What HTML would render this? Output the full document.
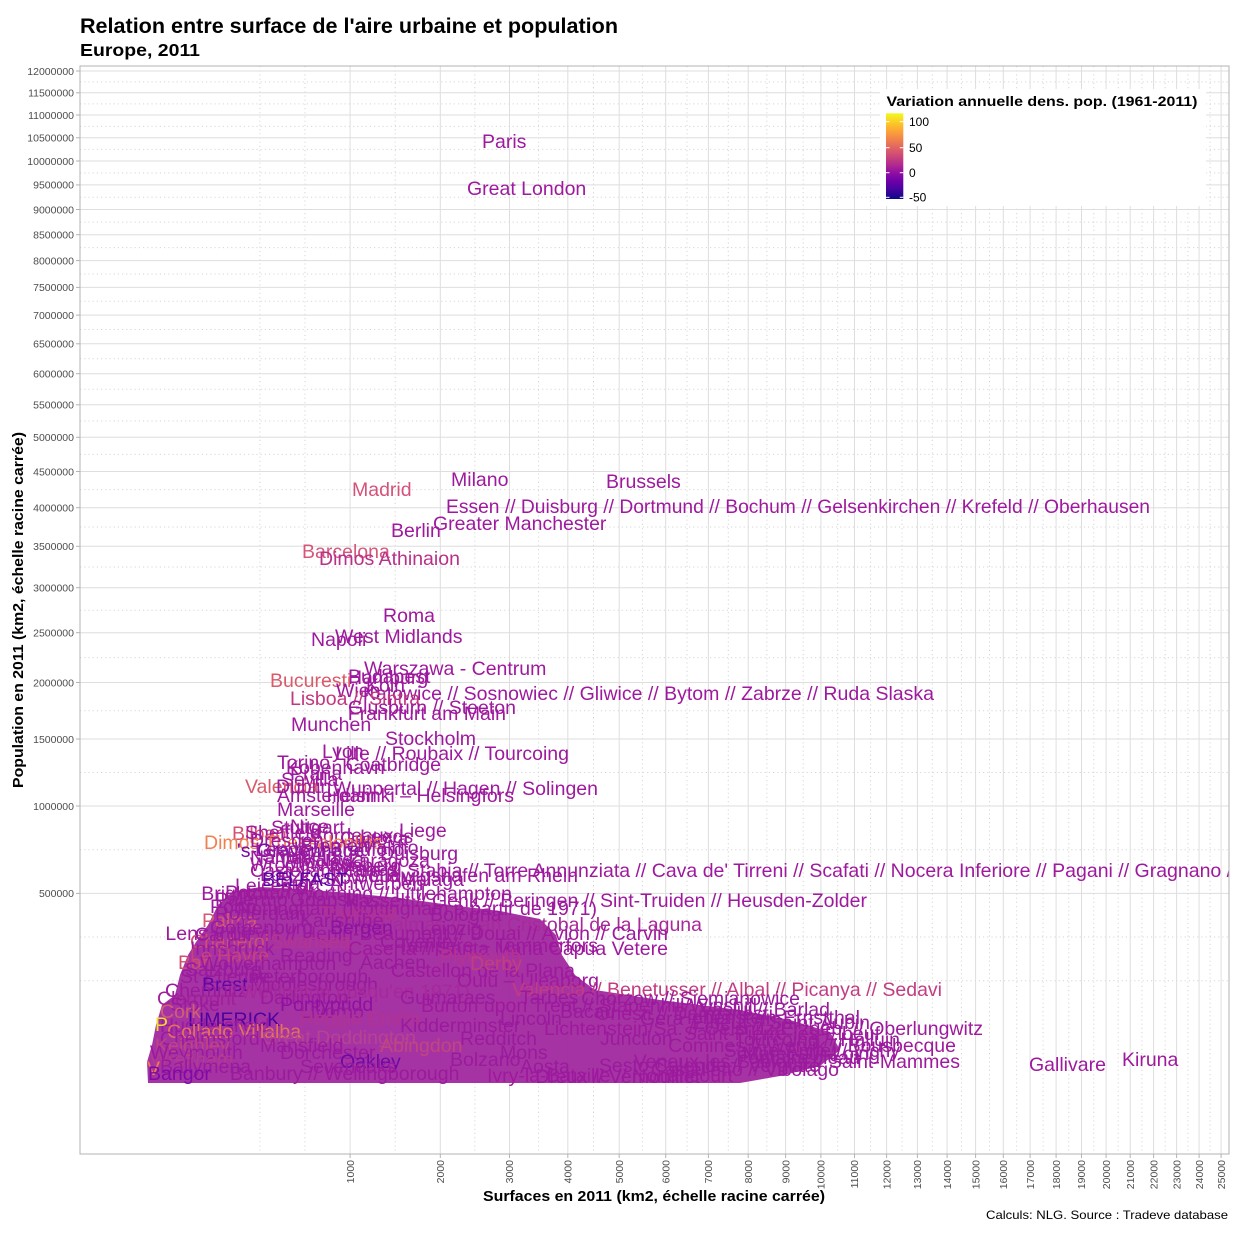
<!DOCTYPE html>
<html><head><meta charset="utf-8"><style>
html,body{margin:0;padding:0;background:#fff}
svg{display:block}
.l{font-family:"Liberation Sans",sans-serif;font-size:19.5px;fill:#9e199d}
.f{font-family:"Liberation Sans",sans-serif;font-size:19.5px;fill:#9a1a9e}
.tk{font-family:"Liberation Sans",sans-serif;font-size:10.5px;fill:#4d4d4d}
.mj{stroke:#dedede;stroke-width:1}
.mn{stroke:#d6d6d6;stroke-width:1;stroke-dasharray:1.2 3}
</style></head><body>
<svg width="1240" height="1240" viewBox="0 0 1240 1240" xmlns="http://www.w3.org/2000/svg">
<defs>
<clipPath id="pc"><rect x="80" y="66" width="1149" height="1088"/></clipPath>
<linearGradient id="plasma" x1="0" y1="1" x2="0" y2="0">
<stop offset="0" stop-color="#0d0887"/><stop offset="0.1" stop-color="#41049d"/><stop offset="0.2" stop-color="#6a00a8"/><stop offset="0.3" stop-color="#8f0da4"/><stop offset="0.4" stop-color="#b12a90"/><stop offset="0.5" stop-color="#cc4778"/><stop offset="0.6" stop-color="#e16462"/><stop offset="0.7" stop-color="#f2844b"/><stop offset="0.8" stop-color="#fca636"/><stop offset="0.9" stop-color="#fcce25"/><stop offset="1" stop-color="#f0f921"/>
</linearGradient>
</defs>
<rect width="1240" height="1240" fill="#fff"/>
<text x="80" y="33" font-family="Liberation Sans, sans-serif" font-weight="bold" font-size="21" textLength="538" lengthAdjust="spacingAndGlyphs">Relation entre surface de l'aire urbaine et population</text>
<text x="80" y="56" font-family="Liberation Sans, sans-serif" font-weight="bold" font-size="17.3" textLength="120" lengthAdjust="spacingAndGlyphs">Europe, 2011</text>

<!-- minor grid -->
<g class="mn">
<line x1="80" x2="1229" y1="980.7" y2="980.7"/><line x1="80" x2="1229" y1="937" y2="937"/><line x1="80" x2="1229" y1="849.7" y2="849.7"/><line x1="80" x2="1229" y1="772.5" y2="772.5"/><line x1="80" x2="1229" y1="710.7" y2="710.7"/><line x1="80" x2="1229" y1="657.6" y2="657.6"/><line x1="80" x2="1229" y1="610.2" y2="610.2"/><line x1="80" x2="1229" y1="567" y2="567"/><line x1="80" x2="1229" y1="527" y2="527"/><line x1="80" x2="1229" y1="489.6" y2="489.6"/><line x1="80" x2="1229" y1="454.4" y2="454.4"/><line x1="80" x2="1229" y1="421" y2="421"/><line x1="80" x2="1229" y1="389.2" y2="389.2"/><line x1="80" x2="1229" y1="358.7" y2="358.7"/><line x1="80" x2="1229" y1="329.5" y2="329.5"/><line x1="80" x2="1229" y1="301.3" y2="301.3"/><line x1="80" x2="1229" y1="274" y2="274"/><line x1="80" x2="1229" y1="247.6" y2="247.6"/><line x1="80" x2="1229" y1="222.1" y2="222.1"/><line x1="80" x2="1229" y1="197.2" y2="197.2"/><line x1="80" x2="1229" y1="173" y2="173"/><line x1="80" x2="1229" y1="149.4" y2="149.4"/><line x1="80" x2="1229" y1="126.4" y2="126.4"/><line x1="80" x2="1229" y1="103.9" y2="103.9"/><line x1="80" x2="1229" y1="81.9" y2="81.9"/>
<line y1="66" y2="1154" x1="259.9" x2="259.9"/><line y1="66" y2="1154" x1="305" x2="305"/><line y1="66" y2="1154" x1="395.2" x2="395.2"/><line y1="66" y2="1154" x1="474.9" x2="474.9"/><line y1="66" y2="1154" x1="538.6" x2="538.6"/><line y1="66" y2="1154" x1="593.5" x2="593.5"/><line y1="66" y2="1154" x1="642.4" x2="642.4"/><line y1="66" y2="1154" x1="687" x2="687"/><line y1="66" y2="1154" x1="728.3" x2="728.3"/><line y1="66" y2="1154" x1="766.9" x2="766.9"/><line y1="66" y2="1154" x1="803.2" x2="803.2"/><line y1="66" y2="1154" x1="837.7" x2="837.7"/><line y1="66" y2="1154" x1="870.6" x2="870.6"/><line y1="66" y2="1154" x1="902" x2="902"/><line y1="66" y2="1154" x1="932.3" x2="932.3"/><line y1="66" y2="1154" x1="961.4" x2="961.4"/><line y1="66" y2="1154" x1="989.5" x2="989.5"/><line y1="66" y2="1154" x1="1016.7" x2="1016.7"/><line y1="66" y2="1154" x1="1043.1" x2="1043.1"/><line y1="66" y2="1154" x1="1068.8" x2="1068.8"/><line y1="66" y2="1154" x1="1093.8" x2="1093.8"/><line y1="66" y2="1154" x1="1118.2" x2="1118.2"/><line y1="66" y2="1154" x1="1141.9" x2="1141.9"/><line y1="66" y2="1154" x1="1165.1" x2="1165.1"/><line y1="66" y2="1154" x1="1187.9" x2="1187.9"/><line y1="66" y2="1154" x1="1210.1" x2="1210.1"/>
</g>
<!-- major grid -->
<g class="mj">
<line x1="80" x2="1229" y1="893.4" y2="893.4"/><line x1="80" x2="1229" y1="806" y2="806"/><line x1="80" x2="1229" y1="739" y2="739"/><line x1="80" x2="1229" y1="682.5" y2="682.5"/><line x1="80" x2="1229" y1="632.7" y2="632.7"/><line x1="80" x2="1229" y1="587.7" y2="587.7"/><line x1="80" x2="1229" y1="546.3" y2="546.3"/><line x1="80" x2="1229" y1="507.7" y2="507.7"/><line x1="80" x2="1229" y1="471.5" y2="471.5"/><line x1="80" x2="1229" y1="437.3" y2="437.3"/><line x1="80" x2="1229" y1="404.8" y2="404.8"/><line x1="80" x2="1229" y1="373.7" y2="373.7"/><line x1="80" x2="1229" y1="343.8" y2="343.8"/><line x1="80" x2="1229" y1="315.1" y2="315.1"/><line x1="80" x2="1229" y1="287.4" y2="287.4"/><line x1="80" x2="1229" y1="260.6" y2="260.6"/><line x1="80" x2="1229" y1="234.7" y2="234.7"/><line x1="80" x2="1229" y1="209.5" y2="209.5"/><line x1="80" x2="1229" y1="184.9" y2="184.9"/><line x1="80" x2="1229" y1="161" y2="161"/><line x1="80" x2="1229" y1="137.8" y2="137.8"/><line x1="80" x2="1229" y1="115" y2="115"/><line x1="80" x2="1229" y1="92.8" y2="92.8"/><line x1="80" x2="1229" y1="71" y2="71"/>
<line y1="66" y2="1154" x1="350.1" x2="350.1"/><line y1="66" y2="1154" x1="440.3" x2="440.3"/><line y1="66" y2="1154" x1="509.5" x2="509.5"/><line y1="66" y2="1154" x1="567.8" x2="567.8"/><line y1="66" y2="1154" x1="619.2" x2="619.2"/><line y1="66" y2="1154" x1="665.7" x2="665.7"/><line y1="66" y2="1154" x1="708.4" x2="708.4"/><line y1="66" y2="1154" x1="748.2" x2="748.2"/><line y1="66" y2="1154" x1="785.6" x2="785.6"/><line y1="66" y2="1154" x1="820.9" x2="820.9"/><line y1="66" y2="1154" x1="854.5" x2="854.5"/><line y1="66" y2="1154" x1="886.6" x2="886.6"/><line y1="66" y2="1154" x1="917.4" x2="917.4"/><line y1="66" y2="1154" x1="947.1" x2="947.1"/><line y1="66" y2="1154" x1="975.6" x2="975.6"/><line y1="66" y2="1154" x1="1003.3" x2="1003.3"/><line y1="66" y2="1154" x1="1030.1" x2="1030.1"/><line y1="66" y2="1154" x1="1056.1" x2="1056.1"/><line y1="66" y2="1154" x1="1081.5" x2="1081.5"/><line y1="66" y2="1154" x1="1106.1" x2="1106.1"/><line y1="66" y2="1154" x1="1130.2" x2="1130.2"/><line y1="66" y2="1154" x1="1153.6" x2="1153.6"/><line y1="66" y2="1154" x1="1176.6" x2="1176.6"/><line y1="66" y2="1154" x1="1199.1" x2="1199.1"/><line y1="66" y2="1154" x1="1221.1" x2="1221.1"/>
</g>

<g clip-path="url(#pc)">
<!-- dense mass -->
<polygon fill="#9e229c" fill-opacity="0.92" points="148,1083 147,1062 152,1045 156,1025 162,1005 175,995 180,975 188,955 196,942 208,925 218,905 232,892 260,887 300,889 350,893 400,898 450,905 500,911 540,919 556,935 562,955 575,975 595,990 660,1000 740,1010 790,1020 830,1032 840,1050 820,1066 780,1076 740,1083"/>

<!-- upper labels -->
<text class="l" x="482" y="148">Paris</text>
<text class="l" x="467" y="195">Great London</text>
<text class="l" x="451" y="486">Milano</text>
<text class="l" x="606" y="488">Brussels</text>
<text class="l" x="352" y="496" style="fill:#d4527a">Madrid</text>
<text class="l" x="446" y="513" textLength="704" lengthAdjust="spacingAndGlyphs">Essen // Duisburg // Dortmund // Bochum // Gelsenkirchen // Krefeld // Oberhausen</text>
<text class="l" x="433" y="530">Greater Manchester</text>
<text class="l" x="391" y="537">Berlin</text>
<text class="l" x="302" y="558" style="fill:#d5577a">Barcelona</text>
<text class="l" x="319" y="565" style="fill:#b8308a">Dimos Athinaion</text>
<text class="l" x="383" y="622">Roma</text>
<text class="l" x="335" y="643">West Midlands</text>
<text class="l" x="311" y="646">Napoli</text>
<text class="l" x="364" y="675">Warszawa - Centrum</text>
<text class="l" x="348" y="684">Hamburg</text>
<text class="l" x="348" y="683">Budapest</text>
<text class="l" x="270" y="687" style="fill:#da5a6a">Bucuresti</text>
<text class="l" x="366" y="692">Koln</text>
<text class="l" x="336" y="697">Wien</text>
<text class="l" x="934" y="700" text-anchor="end">Katowice // Sosnowiec // Gliwice // Bytom // Zabrze // Ruda Slaska</text>
<text class="l" x="290" y="705" style="fill:#c2387f">Lisboa // Sintra</text>
<text class="l" x="516" y="714" text-anchor="end">Glusburn // Steeton</text>
<text class="l" x="506" y="720" text-anchor="end">Frankfurt am Main</text>
<text class="l" x="291" y="731">Munchen</text>
<text class="l" x="385" y="745">Stockholm</text>
<text class="l" x="322" y="758">Lyon</text>
<text class="l" x="569" y="760" text-anchor="end">Lille // Roubaix // Tourcoing</text>
<text class="l" x="277" y="769">Torino</text>
<text class="l" x="441" y="771" text-anchor="end">Coatbridge</text>
<text class="l" x="286" y="774">Kobenhavn</text>
<text class="l" x="290" y="780">Praha</text>
<text class="l" x="281" y="786">Sevilla</text>
<text class="l" x="245" y="793" style="fill:#d85a6a">Valencia</text>
<text class="l" x="276" y="793">Dublin</text>
<text class="l" x="598" y="795" text-anchor="end">Wuppertal // Hagen // Solingen</text>
<text class="l" x="277" y="802">Amsterdam</text>
<text class="l" x="514" y="802" text-anchor="end">Helsinki – Helsingfors</text>
<text class="l" x="277" y="816">Marseille</text>
<text class="l" x="399" y="837">Liege</text>
<text class="l" x="290" y="833">Nice</text>
<text class="l" x="271" y="834">Stuttgart</text>
<text class="l" x="232" y="840" style="fill:#d6506f">Bilbao</text>
<text class="l" x="245" y="839">Sheffield</text>
<text class="l" x="310" y="842">Bordeaux</text>
<text class="l" x="340" y="845">Genova</text>
<text class="l" x="360" y="843">Leeds</text>
<text class="l" x="204" y="849" style="fill:#f0804f">Dimos Thessalonikis</text>
<text class="l" x="250" y="847">Dresden</text>
<text class="l" x="237" y="857" style="fill:#7a0aa6">'s-Gravenhage</text>
<text class="l" x="430" y="867" text-anchor="end">Zaragoza</text>
<text class="l" x="250" y="864">Nantes</text>
<text class="l" x="300" y="866">Malaga</text>
<text class="l" x="250" y="871">Wroclaw</text>
<text class="l" x="320" y="872">Nurnberg</text>
<text class="f" x="300" y="852">Bremen</text>
<text class="f" x="360" y="854">Malmo</text>
<text class="f" x="255" y="856">Leeds // Bradford</text>
<text class="f" x="380" y="860">Duisburg</text>
<text class="f" x="262" y="862">Sheffield</text>
<text class="f" x="280" y="868">Wroclaw</text>
<text class="f" x="330" y="876">Rennes</text>
<text class="f" x="260" y="881">Lodz</text>
<text class="f" x="300" y="884">Krakow</text>
<text class="f" x="355" y="882">Sofia</text>
<text class="f" x="400" y="886">Malaga</text>
<text class="f" x="280" y="890">Riga</text>
<text class="l" x="250" y="877">Castellammare di Stabia // Torre Annunziata // Cava de' Tirreni // Scafati // Nocera Inferiore // Pagani // Gragnano // Lettere</text>
<text class="l" x="578" y="882" text-anchor="end">Ludwigshafen am Rhein</text>
<text class="l" x="262" y="886" style="fill:#5a03a5">BELFAST</text>
<text class="l" x="235" y="892">Leicester</text>
<text class="l" x="330" y="890">Antwerpen</text>
<text class="l" x="512" y="900" text-anchor="end">Brighton // Worthing // Littlehampton</text>
<text class="l" x="225" y="899">Poznan</text>
<text class="l" x="867" y="907" text-anchor="end">Hasselt // Genk // Beringen // Sint-Truiden // Heusden-Zolder</text>
<text class="l" x="597" y="915" text-anchor="end">Nottingham (Nottingham à partir de 1971)</text>
<text class="l" x="202" y="927" style="fill:#d65872">Palma</text>
<text class="l" x="702" y="931" text-anchor="end" style="fill:#a8299a">Las Palmas // San Cristobal de la Laguna</text>
<text class="l" x="668" y="940" text-anchor="end">Lens // Lievin // Henin-Beaumont // Douai // Avion // Carvin</text>
<text class="l" x="190" y="948" style="fill:#d05070">Charleroi</text>
<text class="l" x="598" y="952" text-anchor="end">Tampere – Tammerfors</text>
<text class="l" x="668" y="955" text-anchor="end">Caserta // Santa Maria Capua Vetere</text>
<text class="l" x="178" y="969" style="fill:#d14f73">Bari</text>
<text class="l" x="575" y="977" text-anchor="end">Castellon de la Plana</text>
<text class="l" x="599" y="987" text-anchor="end">Oulu – Uleaborg</text>
<text class="l" x="942" y="996" text-anchor="end" style="fill:#c23c83">Valencia // Benetusser // Albal // Picanya // Sedavi</text>
<text class="l" x="757" y="1012" text-anchor="end">Burton upon Trent // Stapenhill/Winshill</text>
<text class="l" x="773" y="1020" text-anchor="end">Onesti // Darmanesti</text>
<text class="l" x="983" y="1035" text-anchor="end">Lichtenstein/Sa. // Oelsnitz/Erzgeb. // Oberlungwitz</text>
<text class="l" x="880" y="1040" text-anchor="end">Saint-Pierre-les-Elbeuf</text>
<text class="l" x="956" y="1052" text-anchor="end">Comines // Wervik // Bousbecque</text>
<text class="l" x="960" y="1068" text-anchor="end">Veneux-les-Sablons // Saint-Mammes</text>
<text class="l" x="839" y="1076" text-anchor="end">Castelletto // Vicolago</text>
<text class="l" x="733" y="1082" text-anchor="end">Ivry-la-Bataille // Nonancourt</text>
<text class="f" x="800" y="1005" text-anchor="end">Chorzow // Siemianowice</text>
<text class="f" x="830" y="1016" text-anchor="end">Vaslui // Barlad</text>
<text class="f" x="860" y="1024" text-anchor="end">Hohenstein-Ernstthal</text>
<text class="f" x="870" y="1029" text-anchor="end">Elbeuf // Saint-Aubin</text>
<text class="f" x="900" y="1046" text-anchor="end">Tourcoing // Halluin</text>
<text class="f" x="880" y="1060" text-anchor="end">Moret-sur-Loing</text>
<text class="f" x="900" y="1057" text-anchor="end">Sainte-Anne // Vichy</text>
<text class="f" x="820" y="1072" text-anchor="end">Sesto Calende // Vergiate</text>
<text class="f" x="700" y="1083" text-anchor="end">Dreux // Vernouillet</text>
<text class="f" x="860" y="1064" text-anchor="end">Fontainebleau</text>
<text class="l" x="1029" y="1071">Gallivare</text>
<text class="l" x="1122" y="1066">Kiruna</text>

<!-- filler inside mass -->
<text class="f" x="215" y="906">Palermo</text>
<text class="f" x="290" y="906">Gdansk</text>
<text class="f" x="210" y="913">Porto</text>
<text class="f" x="215" y="920">Rotterdam</text>
<text class="f" x="320" y="920" style="fill:#b3308e">Toulouse</text>
<text class="f" x="430" y="921">Bologna</text>
<text class="f" x="300" y="927">Karlsruhe</text>
<text class="f" x="210" y="934">Gothenburg</text>
<text class="f" x="330" y="934" style="fill:#8c12a2">Bergen</text>
<text class="f" x="420" y="935">Leipzig</text>
<text class="f" x="195" y="941">Cardiff</text>
<text class="f" x="270" y="948" style="fill:#b6348c">Swansea</text>
<text class="f" x="380" y="948">Coventry</text>
<text class="f" x="190" y="955">Innsbruck</text>
<text class="f" x="190" y="962" style="fill:#c84379">Le Havre</text>
<text class="f" x="280" y="962">Reading</text>
<text class="f" x="440" y="963" style="fill:#b53290">Plymouth</text>
<text class="f" x="200" y="970">Wolverhampton</text>
<text class="f" x="360" y="969">Aachen</text>
<text class="f" x="470" y="970" style="fill:#c0407f">Derby</text>
<text class="f" x="185" y="976">Salzburg</text>
<text class="f" x="180" y="983">St Etienne</text>
<text class="f" x="250" y="983">Peterborough</text>
<text class="l" x="202" y="991" style="fill:#5f06a7">Brest</text>
<text class="f" x="250" y="991">Middlesbrough</text>
<text class="f" x="165" y="997">Chemnitz</text>
<text class="f" x="240" y="998" style="fill:#a7289a">Wellington (jusqu'en 1971)</text>
<text class="f" x="157" y="1005" style="fill:#a02099">Clermont</text>
<text class="f" x="260" y="1004">Darlington</text>
<text class="f" x="400" y="1004">Guimaraes</text>
<text class="f" x="520" y="1004">Tarbes</text>
<text class="f" x="170" y="1011">Stoke</text>
<text class="f" x="280" y="1011" style="fill:#8e10a3">Pontypridd</text>
<text class="f" x="160" y="1018" style="fill:#d06070">Cork</text>
<text class="f" x="300" y="1018">Livorno</text>
<text class="f" x="560" y="1018">Bacau</text>
<text class="l" x="188" y="1026" style="fill:#4c02a1">LIMERICK</text>
<text class="f" x="300" y="1025" style="fill:#b03391">Reggio Emilia</text>
<text class="f" x="500" y="1025">Lincoln</text>
<text class="f" x="640" y="1025">Gera</text>
<text class="f" x="160" y="1032">Huddersfield</text>
<text class="f" x="400" y="1032">Kidderminster</text>
<text class="l" x="155" y="1031" style="fill:#f2dc2c">P</text>
<text class="l" x="167" y="1038" style="fill:#e3745a">Collado Villalba</text>
<text class="l" x="262" y="1044" style="fill:#b64391">Great Doddington</text>
<text class="f" x="160" y="1045">Chelmsford</text>
<text class="f" x="460" y="1045">Redditch</text>
<text class="f" x="600" y="1045">Junction</text>
<text class="f" x="155" y="1052" style="fill:#c0447f">Keighley</text>
<text class="f" x="260" y="1052">Mansfield</text>
<text class="f" x="380" y="1052" style="fill:#c0467f">Abingdon</text>
<text class="f" x="150" y="1059">Weymouth</text>
<text class="f" x="280" y="1059">Dorchester</text>
<text class="f" x="500" y="1059">Mons</text>
<text class="f" x="150" y="1066" style="fill:#b33a90">Wrexham</text>
<text class="l" x="340" y="1068" style="fill:#6a0aa6">Oakley</text>
<text class="f" x="450" y="1066">Bolzano</text>
<text class="l" x="147" y="1075" style="fill:#ef8048">V</text>
<text class="f" x="160" y="1073">Ballymena</text>
<text class="f" x="300" y="1073">Sevenoaks</text>
<text class="f" x="520" y="1073">Aosta</text>
<text class="f" x="148" y="1080" style="fill:#7d0aa6">Bangor</text>
<text class="f" x="230" y="1080">Banbury // Wellingborough</text>
</g>

<!-- panel border -->
<rect x="80" y="66" width="1149" height="1088" fill="none" stroke="#b3b3b3" stroke-width="1"/>

<!-- ticks -->
<g stroke="#b3b3b3" stroke-width="1">
<line x1="76" x2="80" y1="893.4" y2="893.4"/><line x1="76" x2="80" y1="806" y2="806"/><line x1="76" x2="80" y1="739" y2="739"/><line x1="76" x2="80" y1="682.5" y2="682.5"/><line x1="76" x2="80" y1="632.7" y2="632.7"/><line x1="76" x2="80" y1="587.7" y2="587.7"/><line x1="76" x2="80" y1="546.3" y2="546.3"/><line x1="76" x2="80" y1="507.7" y2="507.7"/><line x1="76" x2="80" y1="471.5" y2="471.5"/><line x1="76" x2="80" y1="437.3" y2="437.3"/><line x1="76" x2="80" y1="404.8" y2="404.8"/><line x1="76" x2="80" y1="373.7" y2="373.7"/><line x1="76" x2="80" y1="343.8" y2="343.8"/><line x1="76" x2="80" y1="315.1" y2="315.1"/><line x1="76" x2="80" y1="287.4" y2="287.4"/><line x1="76" x2="80" y1="260.6" y2="260.6"/><line x1="76" x2="80" y1="234.7" y2="234.7"/><line x1="76" x2="80" y1="209.5" y2="209.5"/><line x1="76" x2="80" y1="184.9" y2="184.9"/><line x1="76" x2="80" y1="161" y2="161"/><line x1="76" x2="80" y1="137.8" y2="137.8"/><line x1="76" x2="80" y1="115" y2="115"/><line x1="76" x2="80" y1="92.8" y2="92.8"/><line x1="76" x2="80" y1="71" y2="71"/>
<line y1="1154" y2="1158" x1="350.1" x2="350.1"/><line y1="1154" y2="1158" x1="440.3" x2="440.3"/><line y1="1154" y2="1158" x1="509.5" x2="509.5"/><line y1="1154" y2="1158" x1="567.8" x2="567.8"/><line y1="1154" y2="1158" x1="619.2" x2="619.2"/><line y1="1154" y2="1158" x1="665.7" x2="665.7"/><line y1="1154" y2="1158" x1="708.4" x2="708.4"/><line y1="1154" y2="1158" x1="748.2" x2="748.2"/><line y1="1154" y2="1158" x1="785.6" x2="785.6"/><line y1="1154" y2="1158" x1="820.9" x2="820.9"/><line y1="1154" y2="1158" x1="854.5" x2="854.5"/><line y1="1154" y2="1158" x1="886.6" x2="886.6"/><line y1="1154" y2="1158" x1="917.4" x2="917.4"/><line y1="1154" y2="1158" x1="947.1" x2="947.1"/><line y1="1154" y2="1158" x1="975.6" x2="975.6"/><line y1="1154" y2="1158" x1="1003.3" x2="1003.3"/><line y1="1154" y2="1158" x1="1030.1" x2="1030.1"/><line y1="1154" y2="1158" x1="1056.1" x2="1056.1"/><line y1="1154" y2="1158" x1="1081.5" x2="1081.5"/><line y1="1154" y2="1158" x1="1106.1" x2="1106.1"/><line y1="1154" y2="1158" x1="1130.2" x2="1130.2"/><line y1="1154" y2="1158" x1="1153.6" x2="1153.6"/><line y1="1154" y2="1158" x1="1176.6" x2="1176.6"/><line y1="1154" y2="1158" x1="1199.1" x2="1199.1"/><line y1="1154" y2="1158" x1="1221.1" x2="1221.1"/>
</g>
<g class="tk" text-anchor="end">
<text x="74" y="897.2">500000</text><text x="74" y="809.8">1000000</text><text x="74" y="742.8">1500000</text><text x="74" y="686.3">2000000</text><text x="74" y="636.5">2500000</text><text x="74" y="591.5">3000000</text><text x="74" y="550.1">3500000</text><text x="74" y="511.5">4000000</text><text x="74" y="475.3">4500000</text><text x="74" y="441.1">5000000</text><text x="74" y="408.6">5500000</text><text x="74" y="377.5">6000000</text><text x="74" y="347.6">6500000</text><text x="74" y="318.9">7000000</text><text x="74" y="291.2">7500000</text><text x="74" y="264.4">8000000</text><text x="74" y="238.5">8500000</text><text x="74" y="213.3">9000000</text><text x="74" y="188.7">9500000</text><text x="74" y="164.8">10000000</text><text x="74" y="141.6">10500000</text><text x="74" y="118.8">11000000</text><text x="74" y="96.6">11500000</text><text x="74" y="74.8">12000000</text>
</g>
<g class="tk" text-anchor="end">
<text transform="translate(353.8,1160) rotate(-90)">1000</text><text transform="translate(444,1160) rotate(-90)">2000</text><text transform="translate(513.2,1160) rotate(-90)">3000</text><text transform="translate(571.5,1160) rotate(-90)">4000</text><text transform="translate(622.9,1160) rotate(-90)">5000</text><text transform="translate(669.4,1160) rotate(-90)">6000</text><text transform="translate(712.1,1160) rotate(-90)">7000</text><text transform="translate(751.9,1160) rotate(-90)">8000</text><text transform="translate(789.3,1160) rotate(-90)">9000</text><text transform="translate(824.6,1160) rotate(-90)">10000</text><text transform="translate(858.2,1160) rotate(-90)">11000</text><text transform="translate(890.3,1160) rotate(-90)">12000</text><text transform="translate(921.1,1160) rotate(-90)">13000</text><text transform="translate(950.8,1160) rotate(-90)">14000</text><text transform="translate(979.3,1160) rotate(-90)">15000</text><text transform="translate(1007,1160) rotate(-90)">16000</text><text transform="translate(1033.8,1160) rotate(-90)">17000</text><text transform="translate(1059.8,1160) rotate(-90)">18000</text><text transform="translate(1085.2,1160) rotate(-90)">19000</text><text transform="translate(1109.8,1160) rotate(-90)">20000</text><text transform="translate(1133.9,1160) rotate(-90)">21000</text><text transform="translate(1157.3,1160) rotate(-90)">22000</text><text transform="translate(1180.3,1160) rotate(-90)">23000</text><text transform="translate(1202.8,1160) rotate(-90)">24000</text><text transform="translate(1224.8,1160) rotate(-90)">25000</text>
</g>

<!-- axis titles -->
<text transform="translate(23,610) rotate(-90)" text-anchor="middle" font-family="Liberation Sans, sans-serif" font-weight="bold" font-size="15" textLength="356" lengthAdjust="spacingAndGlyphs">Population en 2011 (km2, échelle racine carrée)</text>
<text x="654" y="1201" text-anchor="middle" font-family="Liberation Sans, sans-serif" font-weight="bold" font-size="15" textLength="342" lengthAdjust="spacingAndGlyphs">Surfaces en 2011 (km2, échelle racine carrée)</text>
<text x="1228" y="1219" text-anchor="end" font-family="Liberation Sans, sans-serif" font-size="12" textLength="242" lengthAdjust="spacingAndGlyphs">Calculs: NLG. Source : Tradeve database</text>

<!-- legend -->
<rect x="880" y="89" width="326" height="117" fill="#fff"/>
<text x="886.5" y="106" font-family="Liberation Sans, sans-serif" font-weight="bold" font-size="14" textLength="311" lengthAdjust="spacingAndGlyphs">Variation annuelle dens. pop. (1961-2011)</text>
<rect x="886" y="113.3" width="17.3" height="85.7" fill="url(#plasma)"/>
<g stroke="#fff" stroke-width="1">
<line x1="886" x2="889.5" y1="121.7" y2="121.7"/><line x1="899.8" x2="903.3" y1="121.7" y2="121.7"/>
<line x1="886" x2="889.5" y1="147.7" y2="147.7"/><line x1="899.8" x2="903.3" y1="147.7" y2="147.7"/>
<line x1="886" x2="889.5" y1="172.7" y2="172.7"/><line x1="899.8" x2="903.3" y1="172.7" y2="172.7"/>
<line x1="886" x2="889.5" y1="197.3" y2="197.3"/><line x1="899.8" x2="903.3" y1="197.3" y2="197.3"/>
</g>
<g font-family="Liberation Sans, sans-serif" font-size="12" fill="#000">
<text x="909" y="126">100</text><text x="909" y="152">50</text><text x="909" y="177">0</text><text x="909" y="201.5">-50</text>
</g>
</svg>
</body></html>
